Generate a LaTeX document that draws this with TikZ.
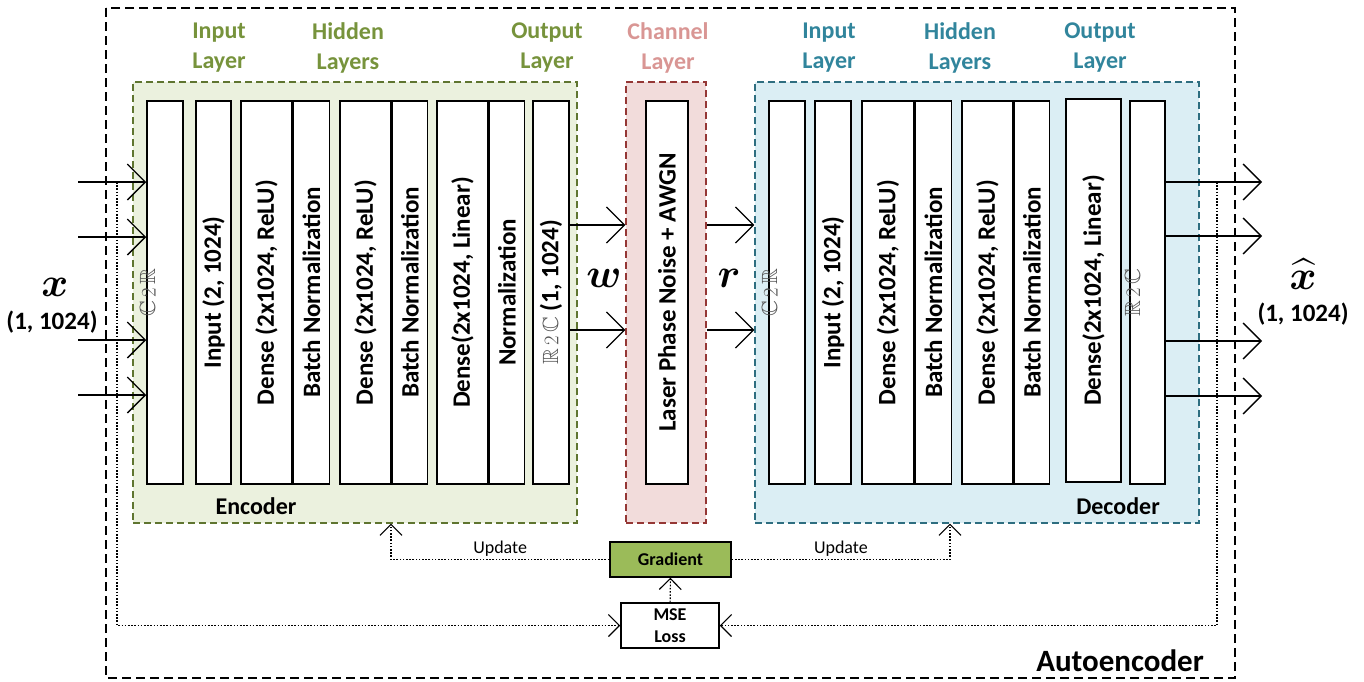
\documentclass[tikz,border=0pt]{standalone}
\usepackage{amsmath,amssymb}
\usepackage{graphicx}
\usepackage{fontspec}
\setmainfont{Carlito}
\usetikzlibrary{positioning, arrows.meta}
\definecolor{encgreen}{HTML}{77933C}
\definecolor{encfill}{HTML}{EBF1DE}
\definecolor{encline}{HTML}{5F7530}
\definecolor{chanred}{HTML}{D99694}
\definecolor{chanfill}{HTML}{F2DCDB}
\definecolor{chanline}{HTML}{953735}
\definecolor{decblue}{HTML}{31859C}
\definecolor{decfill}{HTML}{DBEEF4}
\definecolor{decline}{HTML}{2E6E80}
\definecolor{gradfill}{HTML}{9BBB59}
\newcommand{\layerfont}{\bfseries\fontsize{25}{28}\selectfont}
\newcommand{\headfont}{\bfseries\fontsize{24}{30}\selectfont}
\newcommand{\notefont}{\fontsize{18}{22}\selectfont}
\newcommand{\bigsym}[1]{\scalebox{4.1}{$\boldsymbol{#1}$}}
\newcommand{\convsym}[2]{{\mdseries\fontsize{22}{26}\selectfont\color{black!68}$\mathbb{#1}\,2\,\mathbb{#2}$}}
\tikzset{
layer/.style={draw, fill=white, line width=1.5pt, minimum height=383pt, inner sep=0},
ltext/.style={rotate=90, font=\layerfont},
group/.style={line width=1.3pt, dash pattern=on 7pt off 4pt, inner sep=0, minimum height=441pt},
head/.style={align=center, font=\headfont},
bigarrow/.style={line width=1.3pt, -{Straight Barb[length=18pt, width=36pt, line width=1.3pt]}},
dotline/.style={line width=1.1pt, dash pattern=on 1.6pt off 1.6pt},
dotarrow/.style={dotline, -{Straight Barb[length=11pt, width=22pt, line width=1.1pt]}},
box/.style={draw, line width=1.5pt, inner sep=0, font=\bfseries\fontsize{18}{22}\selectfont, align=center}}

\begin{document}
\begin{tikzpicture}[x=1pt, y=-1pt]
\useasboundingbox (0,0) rectangle (1364,681);
\draw [line width=1.3pt, dash pattern=on 9pt off 5pt] (106,8) rectangle (1235,678);
\node [font=\bfseries\fontsize{31}{34}\selectfont] (ae) at (1120,661) {Autoencoder};
% groups
\node [group, draw=encline, fill=encfill, minimum width=444pt] (enc) at (355,302.5) {};
\node [group, draw=chanline, fill=chanfill, minimum width=80pt] (chan) at (666,302.5) {};
\node [group, draw=decline, fill=decfill, minimum width=444pt] (dec) at (977,302.5) {};
\node [font=\headfont] (enclab) at (256,506) {Encoder};
\node [font=\headfont] (declab) at (1118,506) {Decoder};
% layer headings
\node [head, text=encgreen] (ehin) at (219,48) {Input\\Layer};
\node [head, text=encgreen] (ehhid) at (348,48) {Hidden\\Layers};
\node [head, text=encgreen] (ehout) at (547,48) {Output\\Layer};
\node [head, text=chanred] (chhead) at (668,48) {Channel\\Layer};
\node [head, text=decblue] (dhin) at (829,48) {Input\\Layer};
\node [head, text=decblue] (dhhid) at (960,48) {Hidden\\Layers};
\node [head, text=decblue] (dhout) at (1100,48) {Output\\Layer};
% encoder
\node [layer, minimum width=36pt, label={[ltext, yshift=17pt]center:\convsym{C}{R}}] (ec2r) at (165,292.5) {};
\node [layer, minimum width=35pt, label={[ltext]center:{Input (2, 1024)}}] (ein) at (213.5,292.5) {};
\node [layer, minimum width=51pt, label={[ltext]center:{Dense (2x1024, ReLU)}}] (ed1) at (266.5,292.5) {};
\node [layer, minimum width=36pt, right=0pt of ed1, label={[ltext]center:Batch Normalization}] (ebn1) {};
\node [layer, minimum width=51pt, label={[ltext]center:{Dense (2x1024, ReLU)}}] (ed2) at (365.5,292.5) {};
\node [layer, minimum width=35pt, right=0pt of ed2, label={[ltext]center:Batch Normalization}] (ebn2) {};
\node [layer, minimum width=51pt, label={[ltext]center:{Dense(2x1024, Linear)}}] (ed3) at (462.5,292.5) {};
\node [layer, minimum width=35pt, right=0pt of ed3, label={[ltext]center:Normalization}] (enorm) {};
\node [layer, minimum width=36pt, label={[ltext]center:{\convsym{R}{C} (1, 1024)}}] (er2c) at (551,292.5) {};
% channel
\node [layer, minimum width=42pt, label={[ltext]center:Laser Phase Noise + AWGN}] (noise) at (667,292.5) {};
% decoder
\node [layer, minimum width=36pt, label={[ltext, yshift=17pt]center:\convsym{C}{R}}] (dc2r) at (787,292.5) {};
\node [layer, minimum width=36pt, label={[ltext]center:{Input (2, 1024)}}] (din) at (833,292.5) {};
\node [layer, minimum width=52pt, label={[ltext]center:{Dense (2x1024, ReLU)}}] (dd1) at (888,292.5) {};
\node [layer, minimum width=36pt, right=0pt of dd1, label={[ltext]center:Batch Normalization}] (dbn1) {};
\node [layer, minimum width=51pt, label={[ltext]center:{Dense (2x1024, ReLU)}}] (dd2) at (987.5,292.5) {};
\node [layer, minimum width=35pt, right=0pt of dd2, label={[ltext]center:Batch Normalization}] (dbn2) {};
\node [layer, minimum width=55pt, label={[ltext]center:{Dense(2x1024, Linear)}}] (dd3) at (1093.5,290.5) {};
\node [layer, minimum width=35pt, label={[ltext, yshift=15pt]center:\convsym{R}{C}}] (dr2c) at (1147.5,292.5) {};
% signals
\node [inner sep=0] (xsym) at (55,287) {\bigsym{x}};
\node [font=\layerfont] (xdim) at (52,322) {(1, 1024)};
\node [inner sep=0] (xhat) at (1303,274) {\bigsym{\widehat{x}}};
\node [font=\layerfont] (xhatdim) at (1303,314) {(1, 1024)};
\node [inner sep=0] (wsym) at (604,278) {\bigsym{w}};
\node [inner sep=0] (rsym) at (729,278) {\bigsym{r}};
% training
\node [box, fill=gradfill, minimum width=121pt, minimum height=35pt] (grad) at (670.5,559.5) {Gradient};
\node [box, fill=white, minimum width=98pt, minimum height=45pt] (mse) at (670,625.5) {MSE\\Loss};
\coordinate (updE) at (391,0);
\coordinate (updD) at (950,0);
\coordinate (tapL) at (117,182);
\coordinate (tapR) at (1217,182);
\foreach \y [count=\i] in {182,237,340,395} {
  \coordinate (xin\i) at (78,\y);
  \draw [bigarrow] (xin\i) -- (ec2r.west |- xin\i);
}
\foreach \y [count=\i] in {182,236,341,396} {
  \coordinate (xout\i) at (1262,\y);
  \draw [bigarrow] (dr2c.east |- xout\i) -- (xout\i);
}
\foreach \y [count=\i] in {225,330} {
  \coordinate (sig\i) at (0,\y);
  \draw [bigarrow] (er2c.east |- sig\i) -- (chan.west |- sig\i);
  \draw [bigarrow] (chan.east |- sig\i) -- (dec.west |- sig\i);
}
\draw [dotarrow] (tapL) |- (mse.west);
\draw [dotarrow] (tapR) |- (mse.east);
\draw [dotarrow] (mse) -- (grad);
\draw [dotarrow] (grad.west) -| node [pos=0.25, above, font=\notefont, inner sep=3pt] (upd1) {Update} (updE |- enc.south);
\draw [dotarrow] (grad.east) -| node [pos=0.25, above, font=\notefont, inner sep=3pt] (upd2) {Update} (updD |- dec.south);
\end{tikzpicture}
\end{document}
